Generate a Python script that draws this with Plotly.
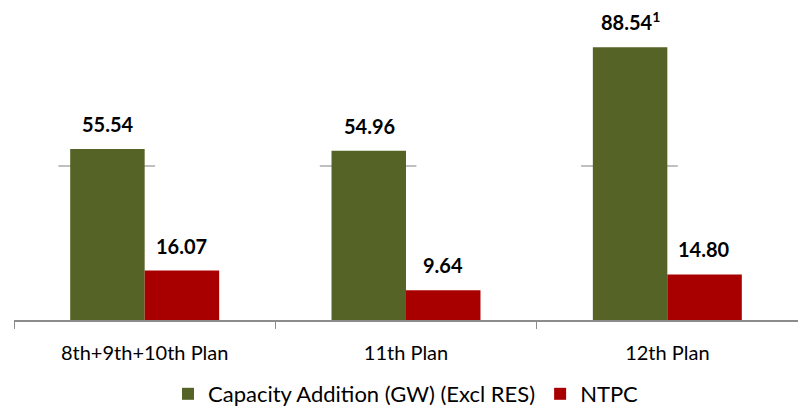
import plotly.graph_objects as go

categories = ["8th+9th+10th Plan", "11th Plan", "12th Plan"]
capacity = [55.54, 54.96, 88.54]
ntpc = [16.07, 9.64, 14.80]
capacity_labels = ["55.54", "54.96", "88.54<sup>1</sup>"]
ntpc_labels = ["16.07", "9.64", "14.80"]
grid_value = 50

GREEN = "#556326"
RED = "#A80000"
FONT = "Lato"

fig = go.Figure()
fig.add_trace(go.Bar(x=categories, y=capacity, name="Capacity Addition (GW) (Excl RES)",
                     marker=dict(color=GREEN, line=dict(width=0))))
fig.add_trace(go.Bar(x=categories, y=ntpc, name="NTPC",
                     marker=dict(color=RED, line=dict(width=0))))

# partial gridline segments at 50 near each category
for i, c in enumerate(categories):
    fig.add_shape(type="line", xref="x", yref="y", x0=i - 0.33, x1=i + 0.04,
                  y0=grid_value, y1=grid_value, line=dict(color="#808080", width=1), layer="below")

for i, c in enumerate(categories):
    fig.add_annotation(x=c, y=capacity[i], text=capacity_labels[i], showarrow=False,
                       xshift=-37, yshift=11, yanchor="bottom",
                       font=dict(family=FONT, size=20, color="#000000", weight="bold"))
    fig.add_annotation(x=c, y=ntpc[i], text=ntpc_labels[i], showarrow=False,
                       xshift=37, yshift=11, yanchor="bottom",
                       font=dict(family=FONT, size=20, color="#000000", weight="bold"))

fig.update_layout(
    width=798, height=415,
    margin=dict(l=14, r=0, t=12, b=95, autoexpand=False),
    paper_bgcolor="white", plot_bgcolor="white",
    barmode="group", bargap=0.43, bargroupgap=0,
    font=dict(family=FONT, size=20, color="#000000"),
    showlegend=True,
    legend=dict(orientation="h", x=0.50, xanchor="center", yref="container", y=0.0,
                yanchor="bottom", font=dict(family=FONT, size=22), traceorder="normal",
                bgcolor="rgba(0,0,0,0)"),
    xaxis=dict(showline=True, linecolor="#8c8c8c", linewidth=1.5, ticks="outside",
               tickson="boundaries", ticklen=7, tickcolor="#8c8c8c",
               ticklabelstandoff=14, automargin=False,
               tickfont=dict(family=FONT, size=20), showgrid=False),
    yaxis=dict(range=[0, 100], visible=False, showgrid=False, automargin=False),
)

fig.write_html("out.html")
